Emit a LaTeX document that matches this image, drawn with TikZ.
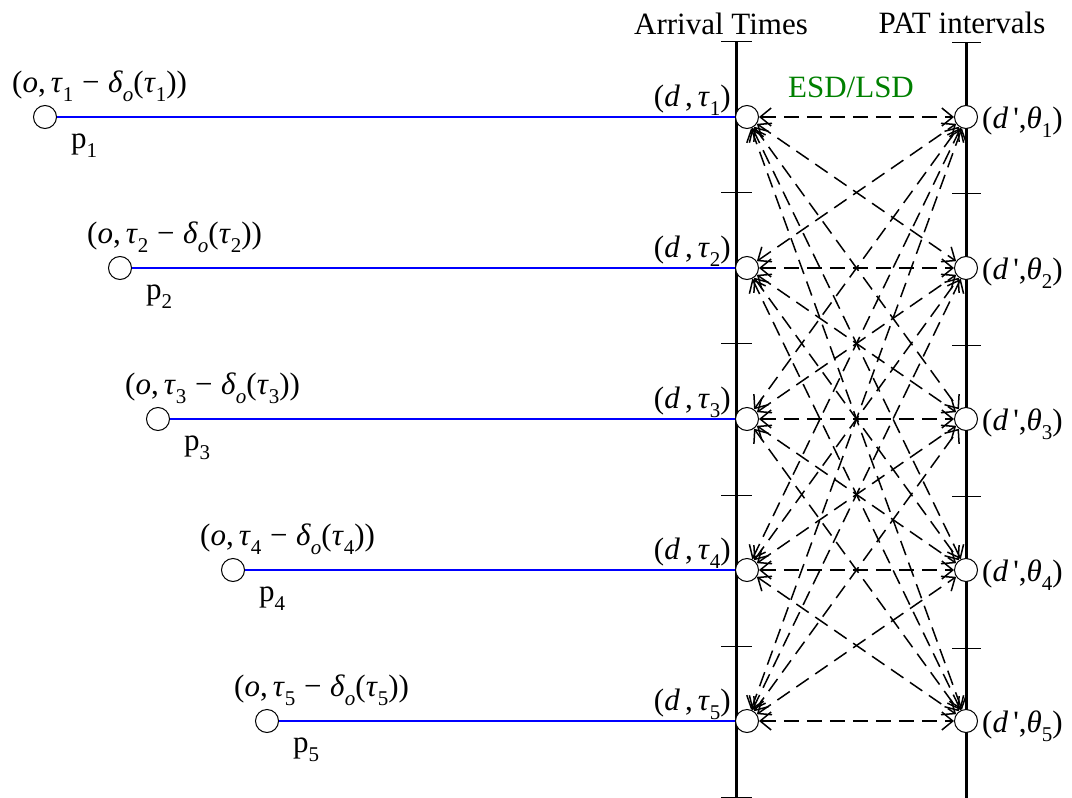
\documentclass[tikz,border=0pt]{standalone}
\usepackage{fontspec}
\setmainfont{Liberation Serif}
\newfontfamily\nomap[Ligatures=TeXOff]{Liberation Serif}
\usetikzlibrary{arrows.meta}
\definecolor{esdgreen}{RGB}{0,128,0}
\newcommand\sbs[1]{\raisebox{-0.3em}{\fontsize{21}{21}\selectfont #1}}
\newcommand\vi[1]{\textit{#1}}
\begin{document}
\begin{tikzpicture}[x=1pt,y=-1pt, font=\fontsize{31}{34}\selectfont,
  circ/.style={circle,draw,fill=white,minimum size=23pt,inner sep=0pt,line width=1pt},
  axisline/.style={line width=3pt},
  tickline/.style={line width=1pt},
  link/.style={blue,line width=1.6pt},
  esd/.style={dash pattern=on 15pt off 8pt, line width=1.5pt,
    {Straight Barb[length=11pt,width=18pt]}-{Straight Barb[length=11pt,width=18pt]}}]
\useasboundingbox (0,0) rectangle (1072,798);
% axes
\draw[axisline] (736,41) -- (736,800);
\draw[axisline] (966,42) -- (966,800);
\foreach \y in {41,192,343,495,646,797} \draw[tickline] (721,\y) -- (752,\y);
\foreach \y in {42,193,345,496,648,799} \draw[tickline] (952,\y) -- (981,\y);
% headings
\node[anchor=base] (hA) at (721,34) {Arrival Times};
\node[anchor=base] (hP) at (962,33) {PAT intervals};
\node[anchor=base, text=esdgreen] (esdlbl) at (851,97) {ESD/LSD};
% nodes
\foreach \i/\y/\cx in {1/117/45, 2/268/120, 3/419/158, 4/570/233, 5/721/267} {
  \node[circ] (d\i) at (747,\y) {};
  \node[circ] (e\i) at (966,\y) {};
  \node[circ] (p\i) at (\cx,\y) {};
  \node[anchor=base east, inner sep=0pt] (dl\i) at (731,\y-11) {(\vi{d}\,,\,\vi{τ}\sbs{\i})};
  \node[anchor=base west, inner sep=0pt] (el\i) at (982,\y+11) {(\vi{d}\,{\nomap'},\vi{θ}\sbs{\i})};
  \node[anchor=base west, inner sep=0pt] (ol\i) at (\cx-33,\y-25) {(\vi{o},\,\vi{τ}\sbs{\i}\;−\;\vi{δ}\sbs{\vi{o}}(\vi{τ}\sbs{\i}))};
  \node[anchor=base west, inner sep=0pt] (pl\i) at (\cx+26,\y+31) {p\sbs{\i}};
  \draw[link] (p\i) -- (d\i);
}
\foreach \i in {1,...,5} \foreach \j in {1,...,5} \draw[esd] (d\i) -- (e\j);
\end{tikzpicture}
\end{document}
